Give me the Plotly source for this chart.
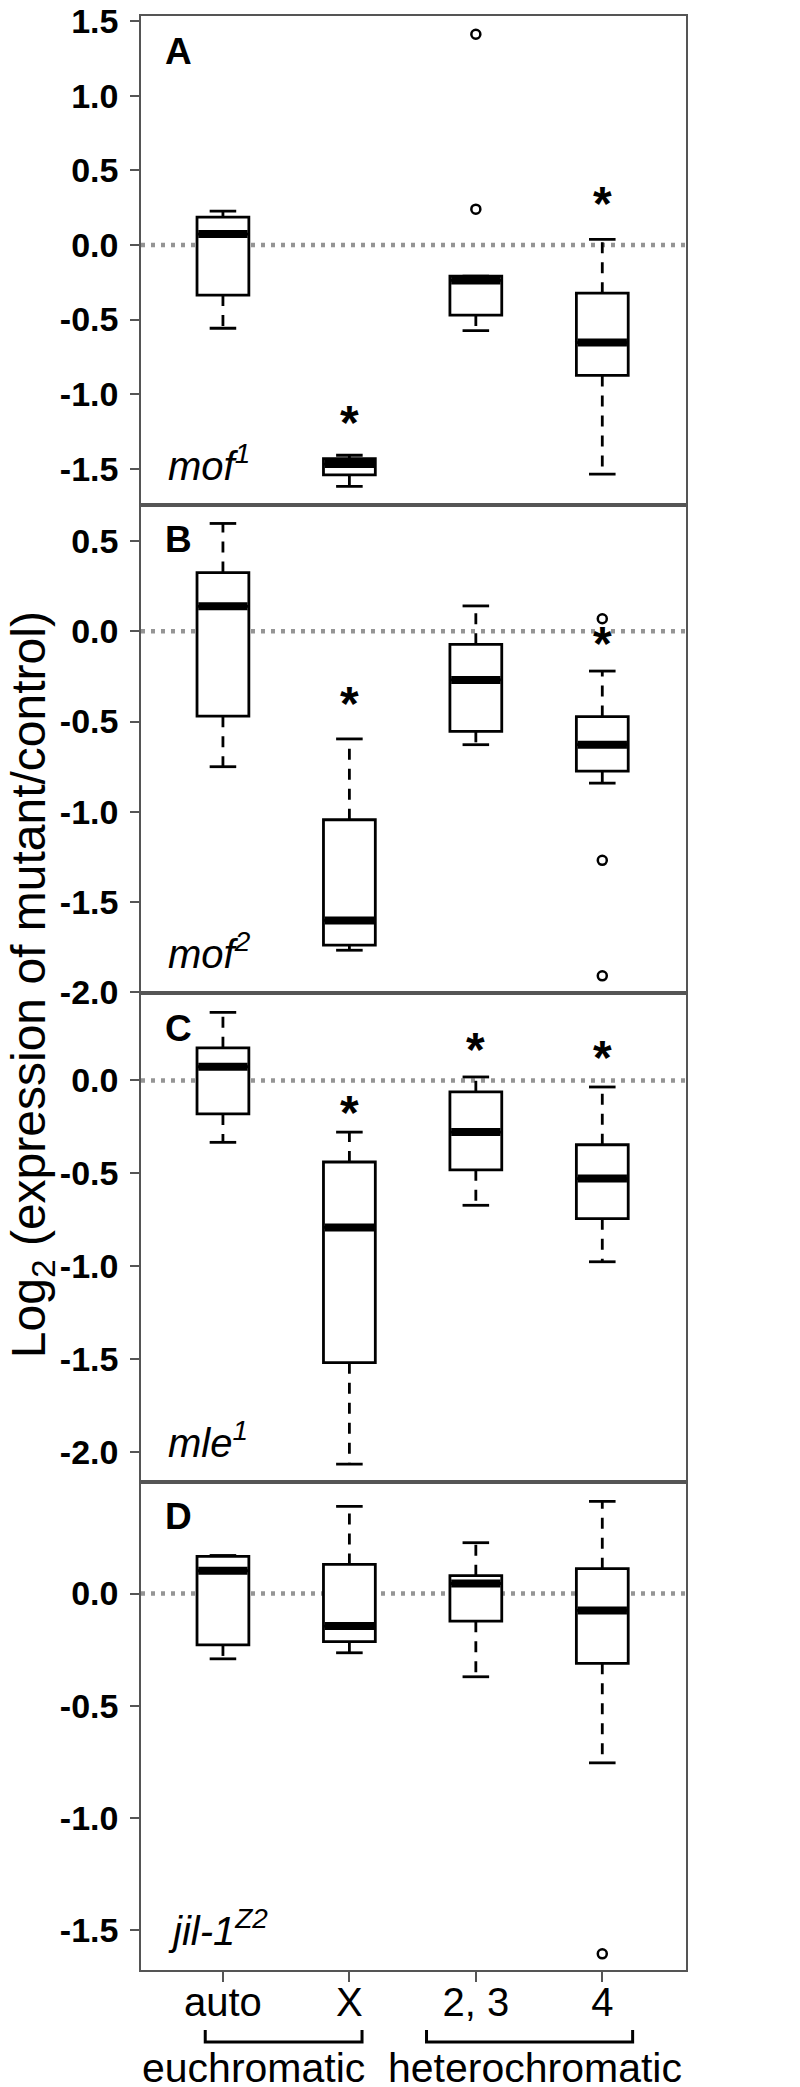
"""
Boxplots apilados: log2 de la expresión mutante/control por tipo de cromatina.
"""

import plotly.graph_objects as go
from plotly.subplots import make_subplots

FONT = "Liberation Sans, Arial, Helvetica, sans-serif"
GRIS = "#555555"

CATEGORIAS = ["auto", "X", "2, 3", "4"]
POS = [1, 2, 3, 4]
PANELES = ["A", "B", "C", "D"]
GENOTIPOS = ["mof<sup>1</sup>", "mof<sup>2</sup>", "mle<sup>1</sup>", "jil-1<sup>Z2</sup>"]
GRUPOS = ["euchromatic", "heterochromatic"]

# A - mof1
A_Q1 = [-0.336, -1.541, -0.470, -0.874]
A_MED = [0.073, -1.468, -0.238, -0.654]
A_Q3 = [0.186, -1.432, -0.209, -0.323]
A_LO = [-0.558, -1.618, -0.574, -1.536]
A_HI = [0.227, -1.409, -0.209, 0.038]
A_OUT_X = [3, 3]
A_OUT_Y = [1.412, 0.240]
A_STAR_X = [2, 4]
A_STAR_Y = [-1.250, 0.216]

# B - mof2
B_Q1 = [-0.470, -1.739, -0.554, -0.774]
B_MED = [0.139, -1.602, -0.269, -0.628]
B_Q3 = [0.326, -1.044, -0.072, -0.472]
B_LO = [-0.750, -1.767, -0.628, -0.841]
B_HI = [0.598, -0.596, 0.141, -0.220]
B_OUT_X = [4, 4, 4]
B_OUT_Y = [0.070, -1.269, -1.909]
B_STAR_X = [2, 4]
B_STAR_Y = [-0.448, -0.119]

# C - mle1
C_Q1 = [-0.180, -1.519, -0.481, -0.744]
C_MED = [0.074, -0.791, -0.278, -0.528]
C_Q3 = [0.176, -0.439, -0.061, -0.346]
C_LO = [-0.333, -2.065, -0.672, -0.976]
C_HI = [0.367, -0.278, 0.019, -0.035]
C_OUT_X = []
C_OUT_Y = []
C_STAR_X = [2, 3, 4]
C_STAR_Y = [-0.222, 0.120, 0.074]

# D - jil-1Z2
D_Q1 = [-0.229, -0.214, -0.123, -0.311]
D_MED = [0.102, -0.145, 0.045, -0.075]
D_Q3 = [0.166, 0.130, 0.080, 0.111]
D_LO = [-0.291, -0.264, -0.371, -0.755]
D_HI = [0.170, 0.389, 0.227, 0.411]
D_OUT_X = [4]
D_OUT_Y = [-1.607]
D_STAR_X = []
D_STAR_Y = []

RANGOS = [[-1.739, 1.534], [-2.004, 0.703], [-2.159, 0.471], [-1.679, 0.500]]
TICKS = [
    [-1.5, -1.0, -0.5, 0.0, 0.5, 1.0, 1.5],
    [-2.0, -1.5, -1.0, -0.5, 0.0, 0.5],
    [-2.0, -1.5, -1.0, -0.5, 0.0],
    [-1.5, -1.0, -0.5, 0.0],
]

DATOS = [
    (A_Q1, A_MED, A_Q3, A_LO, A_HI, A_OUT_X, A_OUT_Y, A_STAR_X, A_STAR_Y),
    (B_Q1, B_MED, B_Q3, B_LO, B_HI, B_OUT_X, B_OUT_Y, B_STAR_X, B_STAR_Y),
    (C_Q1, C_MED, C_Q3, C_LO, C_HI, C_OUT_X, C_OUT_Y, C_STAR_X, C_STAR_Y),
    (D_Q1, D_MED, D_Q3, D_LO, D_HI, D_OUT_X, D_OUT_Y, D_STAR_X, D_STAR_Y),
]

ANCHO_CAJA = 0.41
ANCHO_BIGOTE = 0.21
X_RANGO = [0.352, 4.662]
LW = 2.8


def segmentos(x0, x1, y0, y1):
    xs, ys = [], []
    for a, b, c, d in zip(x0, x1, y0, y1):
        xs += [a, b, None]
        ys += [c, d, None]
    return xs, ys


fig = make_subplots(rows=4, cols=1, vertical_spacing=0)

for i, (q1, med, q3, lo, hi, ox, oy, sx, sy) in enumerate(DATOS):
    row = i + 1
    sufijo = "" if row == 1 else str(row)
    # bigotes discontinuos
    xs, ys = segmentos(POS + POS, POS + POS, q3 + q1, hi + lo)
    fig.add_trace(go.Scatter(x=xs, y=ys, mode="lines",
                             line=dict(color="black", width=LW, dash="11px,9px"),
                             hoverinfo="skip", showlegend=False), row=row, col=1)
    # topes
    izq = [p - ANCHO_BIGOTE / 2 for p in POS]
    der = [p + ANCHO_BIGOTE / 2 for p in POS]
    xs, ys = segmentos(izq + izq, der + der, hi + lo, hi + lo)
    fig.add_trace(go.Scatter(x=xs, y=ys, mode="lines",
                             line=dict(color="black", width=LW),
                             hoverinfo="skip", showlegend=False), row=row, col=1)
    # cajas
    fig.add_trace(go.Box(x=POS, q1=q1, median=med, q3=q3, lowerfence=q1, upperfence=q3,
                         width=ANCHO_CAJA, whiskerwidth=0, fillcolor="white",
                         line=dict(color="black", width=LW), boxpoints=False,
                         hoverinfo="skip", showlegend=False), row=row, col=1)
    # medianas gruesas
    izq = [p - ANCHO_CAJA / 2 + 0.01 for p in POS]
    der = [p + ANCHO_CAJA / 2 - 0.01 for p in POS]
    xs, ys = segmentos(izq, der, med, med)
    fig.add_trace(go.Scatter(x=xs, y=ys, mode="lines",
                             line=dict(color="black", width=8),
                             hoverinfo="skip", showlegend=False), row=row, col=1)
    # atípicos
    if ox:
        fig.add_trace(go.Scatter(x=ox, y=oy, mode="markers",
                                 marker=dict(symbol="circle-open", size=9, color="black",
                                             line=dict(width=2.5)),
                                 hoverinfo="skip", showlegend=False), row=row, col=1)
    # asteriscos
    for x, y in zip(sx, sy):
        fig.add_annotation(x=x, y=y, xref=f"x{sufijo}", yref=f"y{sufijo}", text="*",
                           showarrow=False, yanchor="middle", yshift=9,
                           font=dict(family=FONT, size=48, color="black", weight=700))

    # línea de referencia en 0
    fig.add_shape(type="line", xref=f"x{sufijo} domain", x0=0, x1=1,
                  yref=f"y{sufijo}", y0=0, y1=0, layer="below",
                  line=dict(color="#959595", width=4.5, dash="4px,6px"))

    fig.update_yaxes(range=RANGOS[i], tickmode="array", tickvals=TICKS[i],
                     ticktext=[f"{v:.1f}" for v in TICKS[i]],
                     ticks="outside", ticklen=9, tickwidth=1.5, tickcolor=GRIS,
                     ticklabelstandoff=5, ticklabeloverflow="allow", automargin=False,
                     tickfont=dict(family=FONT, size=34, color="black", weight=700),
                     showline=True, mirror=True, linecolor=GRIS, linewidth=1.5,
                     showgrid=False, zeroline=False, row=row, col=1)
    fig.update_xaxes(range=X_RANGO, tickmode="array", tickvals=POS,
                     ticktext=CATEGORIAS, showticklabels=(row == 4),
                     ticks="outside" if row == 4 else "", ticklen=10, tickwidth=1.5,
                     ticklabelstandoff=-14, automargin=False,
                     tickcolor=GRIS, tickfont=dict(family=FONT, size=40, color="black"),
                     showline=True, mirror=True, linecolor=GRIS, linewidth=1.5,
                     showgrid=False, zeroline=False, row=row, col=1)

    fig.add_annotation(x=0.04, y=1, xref=f"x{sufijo} domain", yref=f"y{sufijo} domain",
                       text=PANELES[i], showarrow=False, xanchor="left", yanchor="middle",
                       yshift=-35, font=dict(family=FONT, size=37, color="black", weight=700))
    fig.add_annotation(x=0.045, y=0, xref=f"x{sufijo} domain", yref=f"y{sufijo} domain",
                       text=f"<i>{GENOTIPOS[i]}</i>", showarrow=False, xanchor="left",
                       yanchor="bottom", yshift=15,
                       font=dict(family=FONT, size=40, color="black"))

# llaves de agrupación bajo el eje x
LLAVE_X0 = [0.86, 2.61]
LLAVE_X1 = [2.10, 4.24]
GRUPO_X = [1.24, 3.47]
for x0, x1, xt, texto in zip(LLAVE_X0, LLAVE_X1, GRUPO_X, GRUPOS):
    fig.add_shape(type="path", xref="x4", yref="paper",
                  path=f"M {x0},-0.0307 L {x0},-0.0369 L {x1},-0.0369 L {x1},-0.0307",
                  line=dict(color="black", width=3))
    fig.add_annotation(x=xt, y=-0.0502, xref="x4", yref="paper", text=texto,
                       showarrow=False, yanchor="middle",
                       font=dict(family=FONT, size=41, color="black"))

fig.add_annotation(x=-0.2, y=0.504, xref="paper", yref="paper",
                   text="Log<sub>2</sub> (expression of mutant/control)",
                   textangle=-90, showarrow=False, xanchor="center", yanchor="middle",
                   font=dict(family=FONT, size=48, color="black"))

fig.update_layout(width=800, height=2087, boxmode="overlay",
                  plot_bgcolor="white", paper_bgcolor="white",
                  margin=dict(l=133, r=122, t=8, b=125, autoexpand=False))

fig.write_html("out.html")
